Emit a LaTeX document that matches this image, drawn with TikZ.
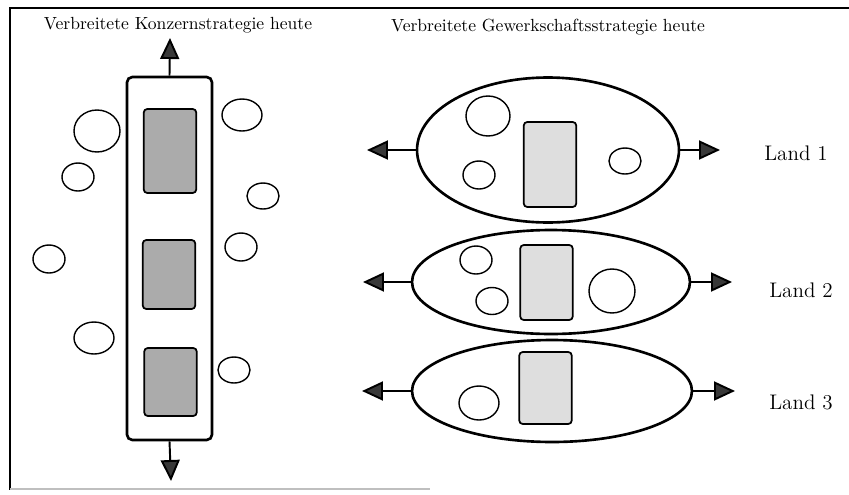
\documentclass[tikz,border=0pt]{standalone}
\usepackage{tikz}
\usetikzlibrary{positioning, shapes.geometric, arrows.meta}
\tikzstyle{Arrow} = [
    line width = 1.1pt,
    -{Triangle[length=0.42cm, width=0.38cm, fill=black!78]}
]

\begin{document}
\begin{tikzpicture}[
x = 0.02cm, y = -0.02cm,
blob/.style = {
    ellipse,
    draw,
    line width = 0.8pt,
    inner sep = 0pt
    },
land/.style = {
    ellipse,
    draw,
    line width = 1.5pt,
    inner sep = 0pt
    },
unit/.style = {
    rectangle,
    draw,
    rounded corners = 2pt,
    line width = 1pt,
    inner sep = 0pt,
    minimum width = 1.05cm
    },
landlabel/.style = {
    font = \large
    }
]
\useasboundingbox (0,0) rectangle (849,494);

% frame
\draw[line width = 1.2pt] (849,8) -- (10,8) -- (10,490);
\draw[black!25, line width = 1pt] (10,489) -- (430,489);

% titles
\node (konzern) at (178,25) {Verbreitete Konzernstrategie heute};
\node (gewerk) at (548,27) {Verbreitete Gewerkschaftsstrategie heute};

% Konzern
\node [rectangle, draw, rounded corners = 3pt, line width = 1.5pt,
    minimum width = 1.7cm, minimum height = 7.26cm] (konz) at (169.5,258.5) {};
\node [unit, fill = black!33, minimum height = 1.68cm] (k1) at (170,151) {};
\node [unit, fill = black!33, minimum height = 1.38cm] (k2) at (169,274.5) {};
\node [unit, fill = black!33, minimum height = 1.36cm] (k3) at (170.5,382) {};

\coordinate (konzup) at (170,38);
\coordinate (konzdown) at (171,481);
\draw[Arrow] (konz.north) -- (konzup);
\draw[Arrow] (konz.south) -- (konzdown);

\node [blob, minimum width = 0.92cm, minimum height = 0.84cm] (c1) at (97,131) {};
\node [blob, minimum width = 0.64cm, minimum height = 0.56cm] (c2) at (78,177) {};
\node [blob, minimum width = 0.8cm, minimum height = 0.64cm] (c3) at (242,115) {};
\node [blob, minimum width = 0.64cm, minimum height = 0.52cm] (c4) at (263,196) {};
\node [blob, minimum width = 0.64cm, minimum height = 0.56cm] (c5) at (241,247) {};
\node [blob, minimum width = 0.64cm, minimum height = 0.56cm] (c6) at (49,259) {};
\node [blob, minimum width = 0.8cm, minimum height = 0.64cm] (c7) at (94,338) {};
\node [blob, minimum width = 0.64cm, minimum height = 0.52cm] (c8) at (234,370) {};

% Land 1
\node [land, minimum width = 5.24cm, minimum height = 2.9cm] (l1) at (548,150) {};
\node [unit, fill = black!13, minimum height = 1.7cm] (u1) at (550,164.5) {};
\node [blob, minimum width = 0.88cm, minimum height = 0.8cm] (l1a) at (488,116) {};
\node [blob, minimum width = 0.64cm, minimum height = 0.56cm] (l1b) at (479,175) {};
\node [blob, minimum width = 0.64cm, minimum height = 0.52cm] (l1c) at (625,161) {};
\node [landlabel] (n1) at (796,153) {Land 1};
\coordinate (l1w) at (367,150);
\coordinate (l1e) at (720,150);
\draw[Arrow] (l1.west) -- (l1w);
\draw[Arrow] (l1.east) -- (l1e);

% Land 2
\node [land, minimum width = 5.56cm, minimum height = 2.08cm] (l2) at (551,282) {};
\node [unit, fill = black!13, minimum height = 1.5cm] (u2) at (546.5,282.5) {};
\node [blob, minimum width = 0.64cm, minimum height = 0.56cm] (l2a) at (476,260) {};
\node [blob, minimum width = 0.64cm, minimum height = 0.54cm] (l2b) at (492,301) {};
\node [blob, minimum width = 0.92cm, minimum height = 0.88cm] (l2c) at (612,291) {};
\node [landlabel] (n2) at (801,290) {Land 2};
\coordinate (l2w) at (363,282);
\coordinate (l2e) at (732,282);
\draw[Arrow] (l2.west) -- (l2w);
\draw[Arrow] (l2.east) -- (l2e);

% Land 3
\node [land, minimum width = 5.6cm, minimum height = 2.04cm] (l3) at (552,391) {};
\node [unit, fill = black!13, minimum height = 1.44cm] (u3) at (545.5,388) {};
\node [blob, minimum width = 0.8cm, minimum height = 0.68cm] (l3a) at (479,403) {};
\node [landlabel] (n3) at (801,402) {Land 3};
\coordinate (l3w) at (362,391);
\coordinate (l3e) at (735,391);
\draw[Arrow] (l3.west) -- (l3w);
\draw[Arrow] (l3.east) -- (l3e);

\end{tikzpicture}
\end{document}
